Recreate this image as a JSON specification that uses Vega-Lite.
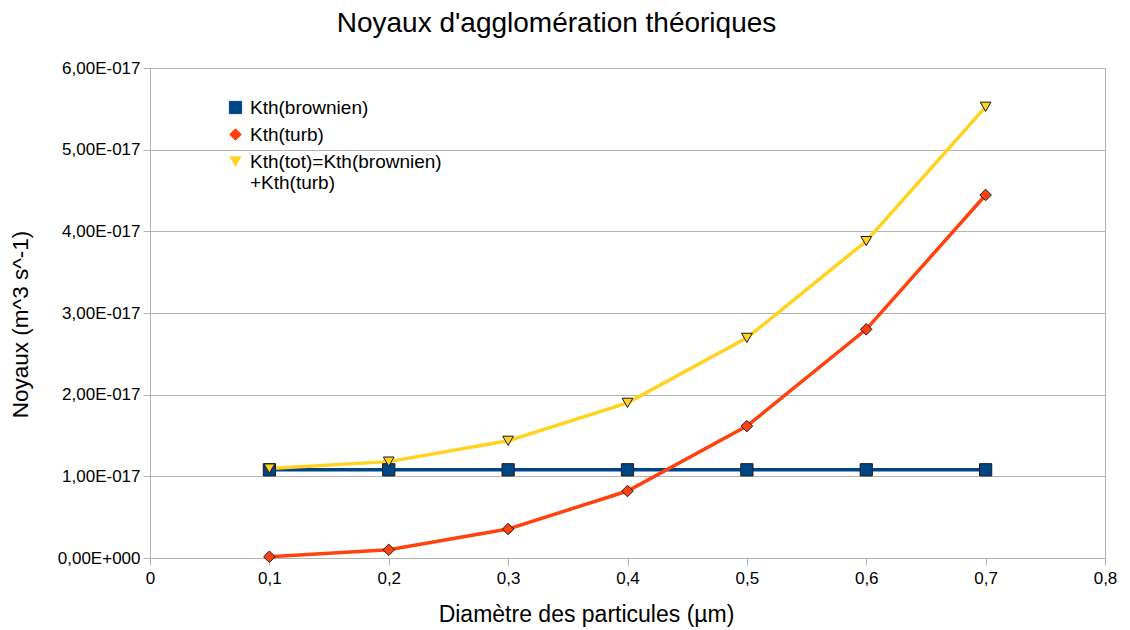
{
  "$schema": "https://vega.github.io/schema/vega-lite/v6.json",
  "width": 955,
  "height": 490,
  "autosize": {"type": "none"},
  "padding": {"left": 150, "top": 68, "right": 25, "bottom": 72},
  "background": "white",
  "title": {
    "text": "Noyaux d'agglomération théoriques",
    "font": "Liberation Sans",
    "fontSize": 28,
    "fontWeight": "normal",
    "color": "#000000",
    "anchor": "middle",
    "dx": -71,
    "offset": 21
  },
  "data": {
    "values": [
      {"d": 0.1, "v": 1.08e-17, "s": "Kth(brownien)"},
      {"d": 0.2, "v": 1.08e-17, "s": "Kth(brownien)"},
      {"d": 0.3, "v": 1.08e-17, "s": "Kth(brownien)"},
      {"d": 0.4, "v": 1.08e-17, "s": "Kth(brownien)"},
      {"d": 0.5, "v": 1.08e-17, "s": "Kth(brownien)"},
      {"d": 0.6, "v": 1.08e-17, "s": "Kth(brownien)"},
      {"d": 0.7, "v": 1.08e-17, "s": "Kth(brownien)"},
      {"d": 0.1, "v": 0.015e-17, "s": "Kth(turb)"},
      {"d": 0.2, "v": 0.1e-17, "s": "Kth(turb)"},
      {"d": 0.3, "v": 0.355e-17, "s": "Kth(turb)"},
      {"d": 0.4, "v": 0.82e-17, "s": "Kth(turb)"},
      {"d": 0.5, "v": 1.615e-17, "s": "Kth(turb)"},
      {"d": 0.6, "v": 2.8e-17, "s": "Kth(turb)"},
      {"d": 0.7, "v": 4.445e-17, "s": "Kth(turb)"},
      {"d": 0.1, "v": 1.095e-17, "s": "Kth(tot)=Kth(brownien)+Kth(turb)"},
      {"d": 0.2, "v": 1.18e-17, "s": "Kth(tot)=Kth(brownien)+Kth(turb)"},
      {"d": 0.3, "v": 1.435e-17, "s": "Kth(tot)=Kth(brownien)+Kth(turb)"},
      {"d": 0.4, "v": 1.9e-17, "s": "Kth(tot)=Kth(brownien)+Kth(turb)"},
      {"d": 0.5, "v": 2.695e-17, "s": "Kth(tot)=Kth(brownien)+Kth(turb)"},
      {"d": 0.6, "v": 3.88e-17, "s": "Kth(tot)=Kth(brownien)+Kth(turb)"},
      {"d": 0.7, "v": 5.525e-17, "s": "Kth(tot)=Kth(brownien)+Kth(turb)"}
    ]
  },
  "encoding": {
    "x": {
      "field": "d",
      "type": "quantitative",
      "scale": {"domain": [0, 0.8], "nice": false, "zero": false},
      "axis": {
        "values": [0, 0.1, 0.2, 0.3, 0.4, 0.5, 0.6, 0.7, 0.8],
        "labelExpr": "datum.value == 0 ? '0' : replace(format(datum.value, '.1f'), '.', ',')",
        "title": "Diamètre des particules (µm)",
        "titleFont": "Liberation Sans",
        "titleFontSize": 23,
        "titleFontWeight": "normal",
        "titleColor": "#000000",
        "titleX": 436,
        "titleY": 45,
        "titleBaseline": "top",
        "titleAnchor": "middle",
        "titleAlign": "center",
        "labelFont": "Liberation Sans",
        "labelFontSize": 17,
        "labelColor": "#000000",
        "labelPadding": 5,
        "labelFlush": false,
        "tickSize": 7,
        "tickColor": "#b3b3b3",
        "domainColor": "#b3b3b3",
        "grid": false
      }
    },
    "y": {
      "field": "v",
      "type": "quantitative",
      "scale": {"domain": [0, 6e-17], "nice": false},
      "axis": {
        "values": [0, 1e-17, 2e-17, 3e-17, 4e-17, 5e-17, 6e-17],
        "labelExpr": "datum.value == 0 ? '0,00E+000' : replace(format(datum.value * 1e17, '.2f'), '.', ',') + 'E-017'",
        "title": "Noyaux (m^3 s^-1)",
        "titleFont": "Liberation Sans",
        "titleFontSize": 22.5,
        "titleFontWeight": "normal",
        "titleColor": "#000000",
        "titleX": -130,
        "titleY": 256,
        "titleAngle": -90,
        "titleBaseline": "middle",
        "titleAlign": "center",
        "labelFont": "Liberation Sans",
        "labelFontSize": 17,
        "labelColor": "#000000",
        "labelPadding": 3,
        "labelFlush": false,
        "tickSize": 7,
        "tickColor": "#b3b3b3",
        "domainColor": "#b3b3b3",
        "grid": true,
        "gridColor": "#b3b3b3",
        "gridWidth": 1
      }
    }
  },
  "layer": [
    {
      "mark": {"type": "line", "strokeWidth": 3.5},
      "encoding": {
        "color": {
          "field": "s",
          "type": "nominal",
          "scale": {
            "domain": ["Kth(brownien)", "Kth(turb)", "Kth(tot)=Kth(brownien)+Kth(turb)"],
            "range": ["#004586", "#ff420e", "#ffd320"]
          }
        }
      }
    },
    {
      "mark": {"type": "point", "filled": true, "opacity": 1, "stroke": "#1a1a1a", "strokeWidth": 1},
      "encoding": {
        "color": {
          "field": "s",
          "type": "nominal",
          "scale": {
            "domain": ["Kth(brownien)", "Kth(turb)", "Kth(tot)=Kth(brownien)+Kth(turb)"],
            "range": ["#004586", "#ff420e", "#ffd320"]
          },
          "legend": {
            "title": null,
            "orient": "none",
            "legendX": 76,
            "legendY": 30,
            "padding": 0,
            "labelFont": "Liberation Sans",
            "labelFontSize": 19,
            "labelColor": "#000000",
            "labelLimit": 400,
            "labelExpr": "datum.label == 'Kth(tot)=Kth(brownien)+Kth(turb)' ? ['Kth(tot)=Kth(brownien)', '+Kth(turb)'] : datum.label",
            "symbolStrokeColor": "#1a1a1a",
            "symbolStrokeWidth": 1,
            "symbolOpacity": 1,
            "rowPadding": 7,
            "labelOffset": 5
          }
        },
        "shape": {
          "field": "s",
          "type": "nominal",
          "scale": {
            "domain": ["Kth(brownien)", "Kth(turb)", "Kth(tot)=Kth(brownien)+Kth(turb)"],
            "range": ["square", "diamond", "triangle-down"]
          }
        },
        "size": {
          "field": "s",
          "type": "nominal",
          "scale": {
            "domain": ["Kth(brownien)", "Kth(turb)", "Kth(tot)=Kth(brownien)+Kth(turb)"],
            "range": [150, 115, 160]
          }
        }
      }
    }
  ],
  "config": {
    "view": {"stroke": "#b3b3b3", "strokeWidth": 1},
    "font": "Liberation Sans",
    "legend": {
      "title": null,
      "orient": "none",
      "legendX": 76,
      "legendY": 30,
      "padding": 0,
      "labelFont": "Liberation Sans",
      "labelFontSize": 19,
      "labelColor": "#000000",
      "labelLimit": 400,
      "symbolStrokeColor": "#1a1a1a",
      "symbolStrokeWidth": 1,
      "symbolOpacity": 1,
      "rowPadding": 7,
      "labelOffset": 5
    }
  }
}
